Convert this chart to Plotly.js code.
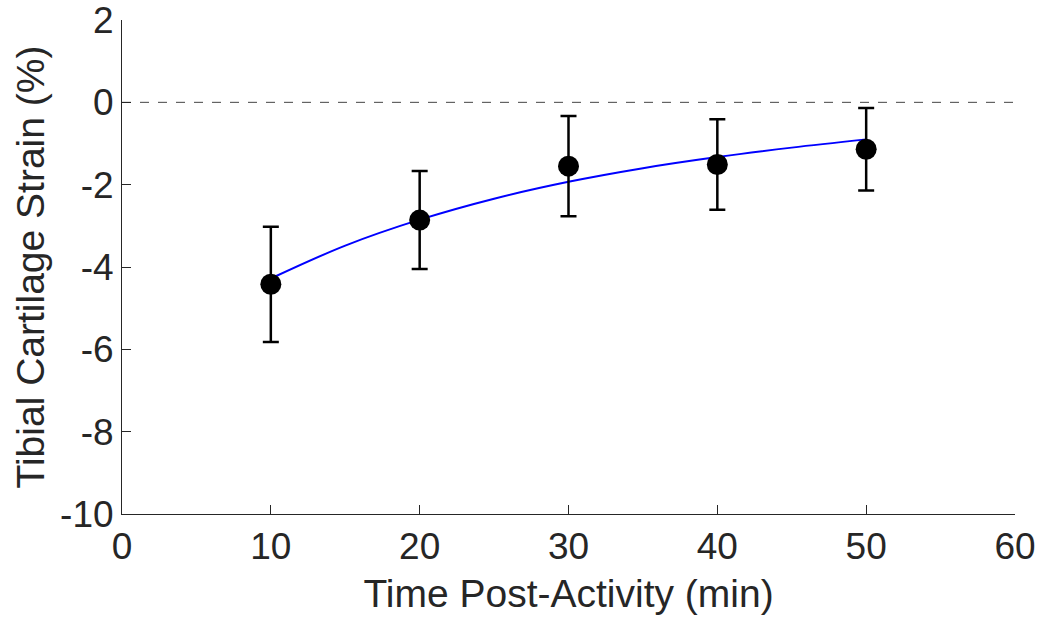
<!DOCTYPE html>
<html>
<head>
<meta charset="utf-8">
<script src="https://cdn.plot.ly/plotly-3.0.1.min.js"></script>
<style>html,body{margin:0;padding:0;background:#fff;}#chart{width:1046px;height:622px;}</style>
</head>
<body>
<div id="chart"></div>
<script>
// Measured data
const timeMin = [10, 20, 30, 40, 50];
const strainMean = [-4.42, -2.86, -1.55, -1.51, -1.14];
const strainErr = [1.40, 1.19, 1.22, 1.10, 1.00];

// Fit curve
const fitTime = [10, 15, 20, 25, 30, 35, 40, 45, 50];
const fitStrain = [-4.28, -3.48, -2.85, -2.34, -1.93, -1.60, -1.33, -1.10, -0.90];

// Zero reference line
const zeroX = [0, 60];
const zeroY = [0, 0];

const xTicks = [0, 10, 20, 30, 40, 50, 60];
const xTickText = ['0', '10', '20', '30', '40', '50', '60'];
const yTicks = [-10, -8, -6, -4, -2, 0, 2];
const yTickText = ['-10', '-8', '-6', '-4', '-2', '0', '2'];

const axisColor = '#262626';
const font = 'Liberation Sans, Arial, sans-serif';

const traces = [
  {x: zeroX, y: zeroY, mode: 'lines', line: {color: '#444', width: 1, dash: 'dash'}, hoverinfo: 'skip', showlegend: false},
  {x: fitTime, y: fitStrain, mode: 'lines', line: {color: '#0000ff', width: 2, shape: 'spline'}, showlegend: false},
  {x: timeMin, y: strainMean, mode: 'markers',
   marker: {color: '#000', size: 21},
   error_y: {type: 'data', array: strainErr, visible: true, color: '#000', thickness: 2.5, width: 8},
   showlegend: false}
];

const layout = {
  width: 1046, height: 622,
  margin: {l: 122, r: 31, t: 20, b: 108},
  paper_bgcolor: '#fff', plot_bgcolor: '#fff',
  showlegend: false,
  xaxis: {
    range: [0, 60], tickvals: xTicks, ticktext: xTickText,
    ticks: 'inside', ticklen: 9, tickwidth: 1, tickcolor: axisColor,
    showline: true, linecolor: axisColor, linewidth: 1, mirror: false,
    showgrid: false, zeroline: false, ticklabeloverflow: 'allow',
    tickfont: {family: font, size: 37, color: axisColor},
    title: {text: 'Time Post-Activity (min)', font: {family: font, size: 39, color: axisColor}, standoff: 13}
  },
  yaxis: {
    range: [-10, 2], tickvals: yTicks, ticktext: yTickText,
    ticks: 'inside', ticklen: 9, tickwidth: 1, tickcolor: axisColor,
    showline: true, linecolor: axisColor, linewidth: 1, mirror: false,
    showgrid: false, zeroline: false, ticklabeloverflow: 'allow',
    tickfont: {family: font, size: 37, color: axisColor},
    title: {text: 'Tibial Cartilage Strain (%)', font: {family: font, size: 39, color: axisColor}, standoff: 3}
  }
};

Plotly.newPlot('chart', traces, layout, {displayModeBar: false, staticPlot: true});
</script>
</body>
</html>
